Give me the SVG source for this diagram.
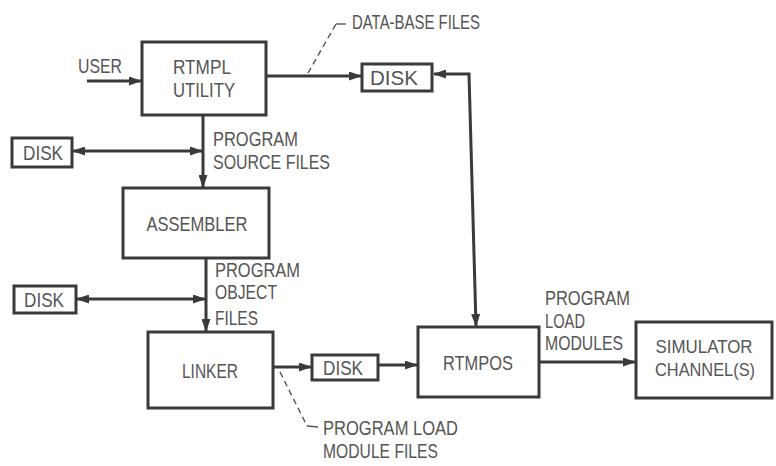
<svg xmlns="http://www.w3.org/2000/svg" width="776" height="466" viewBox="0 0 776 466">
  <style>
    .box { fill: none; stroke: #3a3a3a; stroke-width: 3; }
    .line { fill: none; stroke: #3a3a3a; stroke-width: 3; }
    .lead { fill: none; stroke: #555; stroke-width: 1.4; stroke-dasharray: 6 4; }
    .lead-s { fill: none; stroke: #555; stroke-width: 1.4; }
    .t { font-family: "Liberation Sans", Arial, sans-serif; font-size: 21px; fill: #555; }
    .c { text-anchor: middle; }
    .sm { font-size: 19px; }
  </style>
  <defs>
    <marker id="arrow" markerUnits="userSpaceOnUse" markerWidth="13" markerHeight="9" refX="12" refY="4.5" orient="auto-start-reverse">
      <path d="M0,0 L13,4.5 L0,9 z" fill="#3a3a3a"/>
    </marker>
  </defs>
  <rect width="776" height="466" fill="#fff"/>

  <!-- connectors -->
  <g id="connectors">
    <line class="line" x1="87" y1="81" x2="141" y2="81" marker-end="url(#arrow)"/>
    <line class="line" x1="266" y1="76" x2="361" y2="76" marker-end="url(#arrow)"/>
    <polyline class="line" points="434,74 469,74 476,326" marker-start="url(#arrow)" marker-end="url(#arrow)"/>
    <line class="line" x1="203" y1="115" x2="203" y2="187" marker-end="url(#arrow)"/>
    <line class="line" x1="73" y1="151" x2="202" y2="151" marker-start="url(#arrow)" marker-end="url(#arrow)"/>
    <line class="line" x1="206" y1="258" x2="206" y2="331" marker-end="url(#arrow)"/>
    <line class="line" x1="77" y1="299" x2="205" y2="299" marker-start="url(#arrow)" marker-end="url(#arrow)"/>
    <line class="line" x1="273" y1="367" x2="311" y2="367" marker-end="url(#arrow)"/>
    <line class="line" x1="378" y1="365" x2="417" y2="365" marker-end="url(#arrow)"/>
    <line class="line" x1="539" y1="362" x2="635" y2="362" marker-end="url(#arrow)"/>
    <!-- label leaders -->
    <line class="lead" x1="308" y1="73" x2="336" y2="24"/>
    <line class="lead-s" x1="336" y1="24" x2="346" y2="24"/>
    <line class="lead" x1="280" y1="372" x2="307" y2="426"/>
    <line class="lead-s" x1="307" y1="426" x2="318" y2="427"/>
  </g>

  <!-- flow labels -->
  <g id="labels">
    <text class="t" x="78" y="73" textLength="44" lengthAdjust="spacingAndGlyphs">USER</text>
    <text class="t" x="352" y="29" textLength="128" lengthAdjust="spacingAndGlyphs">DATA-BASE FILES</text>
    <text class="t" x="213" y="146" textLength="85" lengthAdjust="spacingAndGlyphs">PROGRAM</text>
    <text class="t" x="213" y="169" textLength="117" lengthAdjust="spacingAndGlyphs">SOURCE FILES</text>
    <text class="t" x="215" y="277" textLength="85" lengthAdjust="spacingAndGlyphs">PROGRAM</text>
    <text class="t" x="215" y="299" textLength="62" lengthAdjust="spacingAndGlyphs">OBJECT</text>
    <text class="t" x="215" y="325" textLength="43" lengthAdjust="spacingAndGlyphs">FILES</text>
    <text class="t" x="545" y="305" textLength="85" lengthAdjust="spacingAndGlyphs">PROGRAM</text>
    <text class="t" x="545" y="328" textLength="40" lengthAdjust="spacingAndGlyphs">LOAD</text>
    <text class="t" x="545" y="350" textLength="78" lengthAdjust="spacingAndGlyphs">MODULES</text>
    <text class="t" x="323" y="435" textLength="135" lengthAdjust="spacingAndGlyphs">PROGRAM LOAD</text>
    <text class="t" x="323" y="458" textLength="115" lengthAdjust="spacingAndGlyphs">MODULE FILES</text>
  </g>

  <g id="rtmpl">
    <rect class="box" x="142" y="42" width="124" height="73"/>
    <text class="t c" x="202" y="74" textLength="58" lengthAdjust="spacingAndGlyphs">RTMPL</text>
    <text class="t c" x="204" y="97" textLength="62" lengthAdjust="spacingAndGlyphs">UTILITY</text>
  </g>
  <g id="disk-db">
    <rect class="box" x="362" y="64" width="70" height="27"/>
    <text class="t c" x="394" y="85" textLength="48" lengthAdjust="spacingAndGlyphs">DISK</text>
  </g>
  <g id="disk-source">
    <rect class="box" x="12" y="138" width="60" height="29"/>
    <text class="t c" x="43" y="160" textLength="40" lengthAdjust="spacingAndGlyphs">DISK</text>
  </g>
  <g id="assembler">
    <rect class="box" x="123" y="188" width="146" height="70"/>
    <text class="t c" x="197" y="231" textLength="101" lengthAdjust="spacingAndGlyphs">ASSEMBLER</text>
  </g>
  <g id="disk-object">
    <rect class="box" x="14" y="286" width="62" height="27"/>
    <text class="t c" x="44" y="307" textLength="40" lengthAdjust="spacingAndGlyphs">DISK</text>
  </g>
  <g id="linker">
    <rect class="box" x="148" y="332" width="125" height="76"/>
    <text class="t c" x="210" y="378" textLength="56" lengthAdjust="spacingAndGlyphs">LINKER</text>
  </g>
  <g id="disk-load">
    <rect class="box" x="312" y="355" width="66" height="25"/>
    <text class="t c" x="343" y="375" textLength="40" lengthAdjust="spacingAndGlyphs">DISK</text>
  </g>
  <g id="rtmpos">
    <rect class="box" x="418" y="327" width="121" height="70"/>
    <text class="t c" x="478" y="370" textLength="70" lengthAdjust="spacingAndGlyphs">RTMPOS</text>
  </g>
  <g id="simulator">
    <rect class="box" x="636" y="322" width="136" height="76"/>
    <text class="t c sm" x="704" y="353" textLength="97" lengthAdjust="spacingAndGlyphs">SIMULATOR</text>
    <text class="t c sm" x="705" y="376" textLength="100" lengthAdjust="spacingAndGlyphs">CHANNEL(S)</text>
  </g>
</svg>
